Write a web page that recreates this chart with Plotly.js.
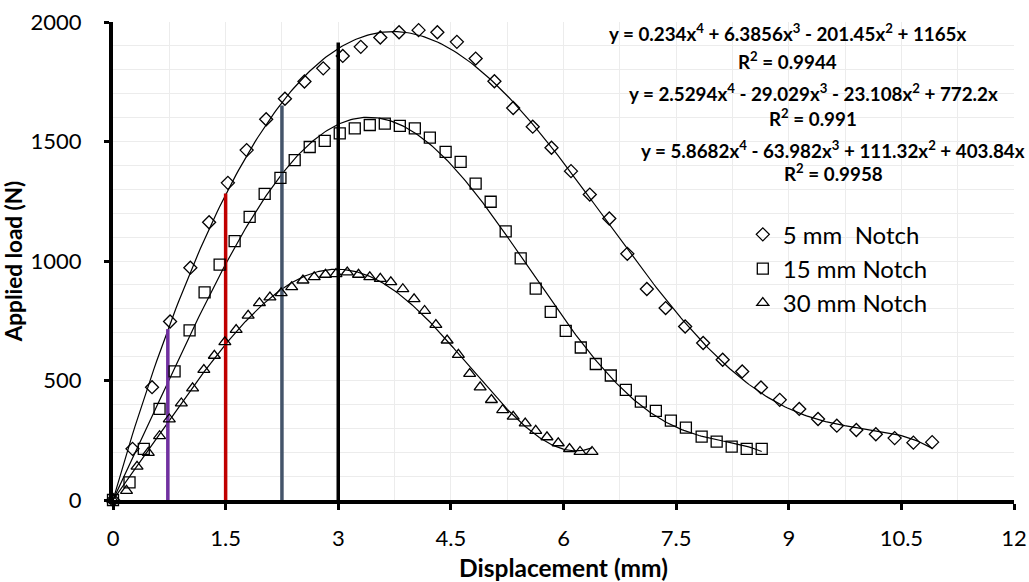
<!DOCTYPE html>
<html>
<head>
<meta charset="utf-8">
<script src="https://cdn.plot.ly/plotly-3.0.1.min.js"></script>
<style>html,body{margin:0;padding:0;background:#fff;}#chart{width:1029px;height:582px;}</style>
</head>
<body>
<div id="chart"></div>
<script>
// ---- data ----
var x5 = [0,0.26,0.52,0.76,1.03,1.28,1.53,1.78,2.04,2.29,2.55,2.80,3.06,3.30,3.56,3.81,4.07,4.32,4.58,4.83,5.08,5.33,5.59,5.84,6.10,6.35,6.61,6.85,7.11,7.36,7.62,7.86,8.12,8.38,8.63,8.88,9.14,9.39,9.64,9.90,10.16,10.41,10.66,10.91];
var y5 = [0,214,472,747,972,1162,1327,1464,1593,1679,1751,1806,1858,1896,1935,1957,1966,1957,1917,1847,1752,1640,1562,1474,1376,1278,1178,1030,883,803,726,657,587,538,471,419,381,339,311,293,275,259,240,242];

var x15 = [0,0.22,0.41,0.62,0.82,1.02,1.22,1.42,1.62,1.82,2.02,2.23,2.42,2.62,2.82,3.02,3.22,3.42,3.62,3.82,4.02,4.22,4.43,4.63,4.83,5.03,5.23,5.43,5.63,5.83,6.03,6.23,6.43,6.63,6.83,7.03,7.23,7.43,7.63,7.84,8.04,8.24,8.44,8.64];
var y15 = [0,74,214,381,538,710,869,985,1083,1185,1281,1348,1422,1477,1503,1534,1555,1569,1575,1565,1555,1516,1457,1415,1324,1248,1124,1011,884,787,708,638,569,521,461,412,373,332,303,265,244,223,214,214];

var x30 = [0,0.18,0.32,0.47,0.62,0.75,0.91,1.06,1.21,1.35,1.49,1.64,1.80,1.95,2.09,2.24,2.38,2.53,2.68,2.83,2.97,3.12,3.27,3.42,3.56,3.70,3.86,4.01,4.15,4.30,4.45,4.60,4.75,4.89,5.04,5.19,5.33,5.49,5.63,5.78,5.93,6.08,6.22,6.38];
var y30 = [0,39,140,198,268,338,405,468,545,604,661,712,772,824,848,866,891,919,933,943,946,953,943,933,926,912,883,841,792,733,668,608,528,472,419,377,349,321,290,263,238,214,202,202];

var seriesNames = ['5 mm  Notch','15 mm Notch','30 mm Notch'];
var equationTexts = [
  'y = 0.234x<sup>4</sup> + 6.3856x<sup>3</sup> - 201.45x<sup>2</sup> + 1165x',
  'R<sup>2</sup> = 0.9944',
  'y = 2.5294x<sup>4</sup> - 29.029x<sup>3</sup> - 23.108x<sup>2</sup> + 772.2x',
  'R<sup>2</sup> = 0.991',
  'y = 5.8682x<sup>4</sup> - 63.982x<sup>3</sup> + 111.32x<sup>2</sup> + 403.84x',
  'R<sup>2</sup> = 0.9958'
];

// vertical reference lines
var refX   = [0.73, 1.5, 2.25, 3.0];
var refTop = [715, 1282, 1651, 1914];

var xTicks = [0,1.5,3,4.5,6,7.5,9,10.5,12];
var yTicks = [0,500,1000,1500,2000];

// ---- styles ----
var refColors = ['#7030A0','#C00000','#44546A','#000000'];
var FONT = 'Lato, "Open Sans", sans-serif';

// least-squares polynomial trendline through the origin
function polyFit0(xs, ys, deg) {
  var n = deg, A = [], b = [];
  for (var i = 0; i < n; i++) { A.push(new Array(n).fill(0)); b.push(0); }
  for (var k = 0; k < xs.length; k++) {
    var p = [];
    for (var i = 0; i < n; i++) p.push(Math.pow(xs[k], i+1));
    for (var i = 0; i < n; i++) {
      b[i] += p[i]*ys[k];
      for (var j = 0; j < n; j++) A[i][j] += p[i]*p[j];
    }
  }
  for (var c = 0; c < n; c++) {
    var piv = c;
    for (var r = c+1; r < n; r++) if (Math.abs(A[r][c]) > Math.abs(A[piv][c])) piv = r;
    var t = A[c]; A[c] = A[piv]; A[piv] = t; var tb = b[c]; b[c] = b[piv]; b[piv] = tb;
    for (var r = c+1; r < n; r++) {
      var f = A[r][c]/A[c][c];
      for (var j = c; j < n; j++) A[r][j] -= f*A[c][j];
      b[r] -= f*b[c];
    }
  }
  var co = new Array(n).fill(0);
  for (var i = n-1; i >= 0; i--) {
    var s = b[i];
    for (var j = i+1; j < n; j++) s -= A[i][j]*co[j];
    co[i] = s/A[i][i];
  }
  return co;
}
function trend(xs, ys, deg) {
  var co = polyFit0(xs, ys, deg), xmax = xs[xs.length-1], tx = [], ty = [];
  for (var i = 0; i <= 300; i++) {
    var x = xmax*i/300, y = 0;
    for (var j = 0; j < co.length; j++) y += co[j]*Math.pow(x, j+1);
    tx.push(x); ty.push(y);
  }
  return {x: tx, y: ty};
}

var traces = [];
var sets = [[x5,y5,'diamond-open',10],[x15,y15,'square-open',11],[x30,y30,'triangle-up-open',10.5]];
sets.forEach(function(s, i) {
  var t = trend(s[0], s[1], 6);
  traces.push({x: t.x, y: t.y, mode: 'lines', line: {color: '#000', width: 1.2}, showlegend: false, hoverinfo: 'skip', cliponaxis: false});
});
refX.forEach(function(x, i) {
  traces.push({x: [x, x], y: [0, refTop[i]], mode: 'lines', line: {color: refColors[i], width: 3.5}, showlegend: false, hoverinfo: 'skip'});
});
sets.forEach(function(s, i) {
  traces.push({x: s[0], y: s[1], mode: 'markers', name: seriesNames[i],
    marker: {symbol: s[2], size: s[3], color: '#000', line: {color: '#000', width: 1.3}},
    cliponaxis: false});
});

var eqPos = [[787,33],[787,60],[813,92],[813,118],[833,149],[833,173]];
var L = 113, R = 1014, T = 22, B = 500;
var annotations = equationTexts.map(function(txt, i) {
  return {text: '<b>' + txt + '</b>', xref: 'paper', yref: 'paper',
    x: (eqPos[i][0]-L)/(R-L), y: (B-eqPos[i][1])/(B-T), xanchor: 'center', yanchor: 'middle',
    showarrow: false, font: {family: FONT, size: 18.8, color: '#000'}};
});

var gridC = '#ececec';
var layout = {
  width: 1029, height: 582,
  margin: {l: L, r: 1029-R, t: T, b: 582-B, pad: 0},
  paper_bgcolor: '#fff', plot_bgcolor: '#fff',
  font: {family: FONT, color: '#000'},
  showlegend: true,
  legend: {x: 0.699, y: 0.602, xanchor: 'left', yanchor: 'top', bgcolor: 'rgba(0,0,0,0)',
    font: {family: FONT, size: 24, color: '#000'}, tracegroupgap: 0},
  xaxis: {range: [0, 12], tickvals: xTicks, ticktext: xTicks.map(String),
    showline: true, linecolor: '#000', linewidth: 4, ticks: 'outside', ticklen: 6, tickwidth: 3, tickcolor: '#000',
    showgrid: true, gridcolor: gridC, gridwidth: 1, zeroline: false,
    minor: {dtick: 0.75, tick0: 0, showgrid: true, gridcolor: gridC, gridwidth: 1, ticks: ''},
    tickfont: {family: FONT, size: 22, color: '#000'}, ticklabelstandoff: 10,
    title: {text: '<b>Displacement (mm)</b>', font: {family: FONT, size: 24.5, color: '#000'}, standoff: 10}},
  yaxis: {range: [0, 2000], tickvals: yTicks, ticktext: yTicks.map(String),
    showline: true, linecolor: '#000', linewidth: 4, ticks: 'outside', ticklen: 5, tickwidth: 3, tickcolor: '#000',
    showgrid: true, gridcolor: gridC, gridwidth: 1, zeroline: false,
    minor: {dtick: 100, tick0: 0, showgrid: true, gridcolor: gridC, gridwidth: 1, ticks: ''},
    tickfont: {family: FONT, size: 22, color: '#000'}, ticklabelstandoff: 18,
    title: {text: '<b>Applied load (N)</b>', font: {family: FONT, size: 22.5, color: '#000'}, standoff: 4}},
  annotations: annotations
};

Plotly.newPlot('chart', traces, layout, {staticPlot: true, displayModeBar: false});
</script>
</body>
</html>
